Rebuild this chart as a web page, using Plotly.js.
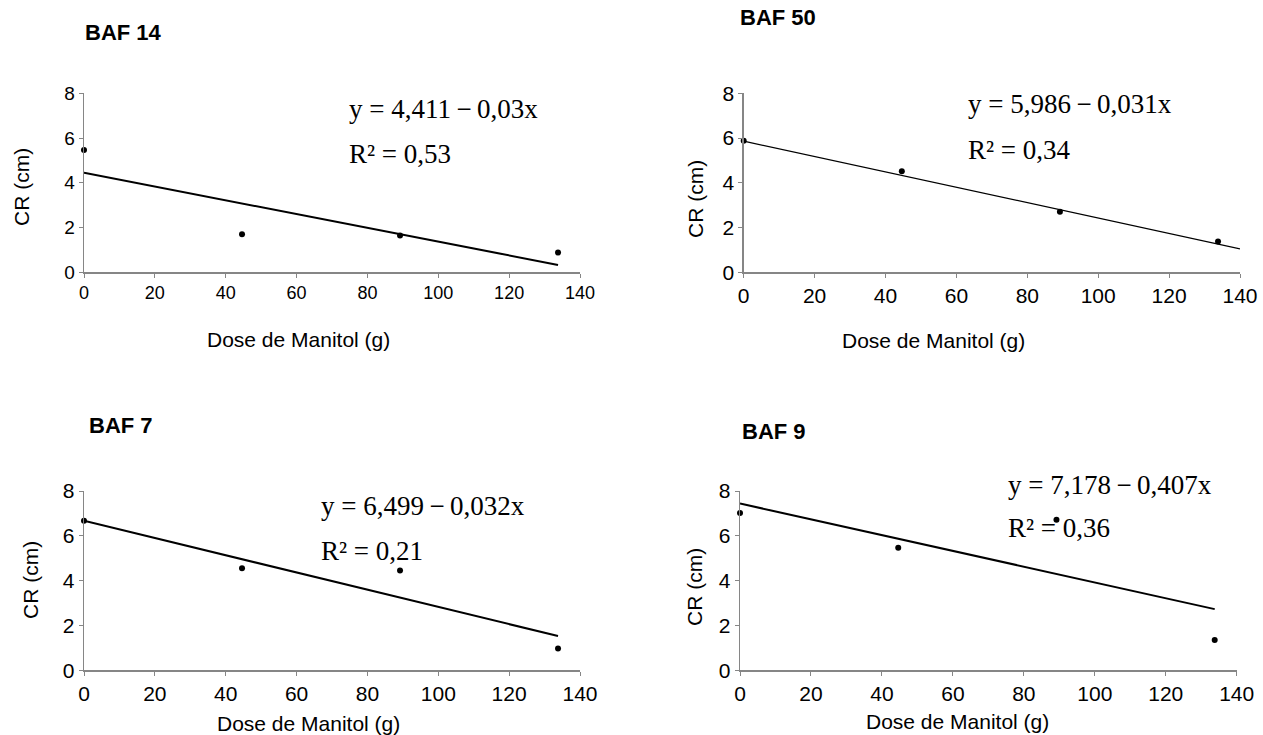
<!DOCTYPE html>
<html>
<head>
<meta charset="utf-8">
<script src="https://cdn.plot.ly/plotly-3.0.1.min.js"></script>
<style>html,body{margin:0;padding:0;background:#fff;}#chart{width:1263px;height:735px;}</style>
</head>
<body>
<div id="chart"></div>
<script>
// ---- data ----
const doses = [0, 44.6, 89.2, 133.8];
const baf14 = [5.47, 1.70, 1.64, 0.88];
const baf50 = [5.88, 4.52, 2.71, 1.38];
const baf7  = [6.67, 4.55, 4.45, 0.97];
const baf9  = [7.02, 5.47, 6.72, 1.35];

const fit14X = [0, 133.8], fit14Y = [4.45, 0.33];
const fit50X = [0, 140],   fit50Y = [5.86, 1.05];
const fit7X  = [0, 133.8], fit7Y  = [6.67, 1.53];
const fit9X  = [0, 133.8], fit9Y  = [7.44, 2.73];

const panelTitles = ["BAF 14", "BAF 50", "BAF 7", "BAF 9"];
const equations = [
  "y = 4,411\u2009\u2212\u20090,03x",
  "y = 5,986\u2009\u2212\u20090,031x",
  "y = 6,499\u2009\u2212\u20090,032x",
  "y = 7,178\u2009\u2212\u20090,407x"
];
const r2Texts = ["R\u00b2 = 0,53", "R\u00b2 = 0,34", "R\u00b2 = 0,21", "R\u00b2 = 0,36"];
const xTitle = "Dose de Manitol (g)";
const yTitle = "CR (cm)";

// ---- layout helpers ----
const W = 1263, H = 735;
const px = v => v / W;
const py = v => 1 - v / H;

const series = [baf14, baf50, baf7, baf9];
const fitsX = [fit14X, fit50X, fit7X, fit9X];
const fitsY = [fit14Y, fit50Y, fit7Y, fit9Y];
const fitWidths = [2, 1.2, 2, 2];

const axesSuffix = ["", "2", "3", "4"];
const traces = [];
series.forEach((s, i) => {
  const xa = "x" + axesSuffix[i], ya = "y" + axesSuffix[i];
  traces.push({x: fitsX[i], y: fitsY[i], xaxis: xa, yaxis: ya, type: "scatter", mode: "lines",
    line: {color: "#000", width: fitWidths[i]}, cliponaxis: false, hoverinfo: "skip", showlegend: false});
  traces.push({x: doses, y: s, xaxis: xa, yaxis: ya, type: "scatter", mode: "markers",
    marker: {color: "#000", size: 6}, cliponaxis: false, showlegend: false});
});

// pixel boxes: [left, right, top, bottom]
const boxes = [
  [84, 580, 93.3, 272.3],
  [743.7, 1240, 93.3, 272.3],
  [84, 580, 491, 670.3],
  [740, 1236.7, 491, 670.3]
];
const tickSizes = [[18, 19], [21, 21], [21, 21], [21, 21]];

const layout = {
  width: W, height: H,
  margin: {l: 0, r: 0, t: 0, b: 0},
  paper_bgcolor: "#fff", plot_bgcolor: "#fff",
  font: {family: "Liberation Sans, Arial, sans-serif", color: "#000"},
  showlegend: false,
  annotations: []
};
boxes.forEach((b, i) => {
  const s = axesSuffix[i];
  layout["xaxis" + s] = {
    domain: [px(b[0]), px(b[1])], anchor: "y" + s, range: [0, 140], dtick: 20, tick0: 0,
    showline: true, linecolor: "#868686", linewidth: 1.3, ticks: "outside", ticklen: 4, tickcolor: "#868686",
    showgrid: false, zeroline: false, tickfont: {size: tickSizes[i][0], color: "#000"}, fixedrange: true
  };
  layout["yaxis" + s] = {
    domain: [py(b[3]), py(b[2])], anchor: "x" + s, range: [0, 8], dtick: 2, tick0: 0,
    showline: true, linecolor: "#868686", linewidth: 1.3, ticks: "outside", ticklen: 4, tickcolor: "#868686",
    showgrid: false, zeroline: false, tickfont: {size: tickSizes[i][1], color: "#000"}, fixedrange: true
  };
});

const ann = layout.annotations;
const titlePos = [[83, 32], [738, 18], [87, 426], [740, 431]];
const eqPos = [[347, 109, 154], [966, 104, 150], [319, 506, 551], [1006, 485, 528]];
const yTitlePos = [[21, 187], [695, 199], [30, 580], [694, 587]];
const xTitlePos = [[298, 339], [933, 340], [308, 723], [957, 721]];
for (let i = 0; i < 4; i++) {
  ann.push({xref: "paper", yref: "paper", x: px(titlePos[i][0]), y: py(titlePos[i][1]),
    xanchor: "left", yanchor: "middle", showarrow: false, text: panelTitles[i],
    font: {size: 22, weight: "bold", family: "Liberation Sans, Arial, sans-serif", color: "#000"}});
  ann.push({xref: "paper", yref: "paper", x: px(eqPos[i][0]), y: py(eqPos[i][1]),
    xanchor: "left", yanchor: "middle", showarrow: false, text: equations[i],
    font: {size: 27, family: "Liberation Serif, Times New Roman, serif", color: "#000"}});
  ann.push({xref: "paper", yref: "paper", x: px(eqPos[i][0]), y: py(eqPos[i][2]),
    xanchor: "left", yanchor: "middle", showarrow: false, text: r2Texts[i],
    font: {size: 27, family: "Liberation Serif, Times New Roman, serif", color: "#000"}});
  ann.push({xref: "paper", yref: "paper", x: px(yTitlePos[i][0]), y: py(yTitlePos[i][1]),
    xanchor: "center", yanchor: "middle", showarrow: false, text: yTitle, textangle: -90,
    font: {size: 21, family: "Liberation Sans, Arial, sans-serif", color: "#000"}});
  ann.push({xref: "paper", yref: "paper", x: px(xTitlePos[i][0]), y: py(xTitlePos[i][1]),
    xanchor: "center", yanchor: "middle", showarrow: false, text: xTitle,
    font: {size: 21, family: "Liberation Sans, Arial, sans-serif", color: "#000"}});
}

Plotly.newPlot("chart", traces, layout, {staticPlot: true, displayModeBar: false});
</script>
</body>
</html>
